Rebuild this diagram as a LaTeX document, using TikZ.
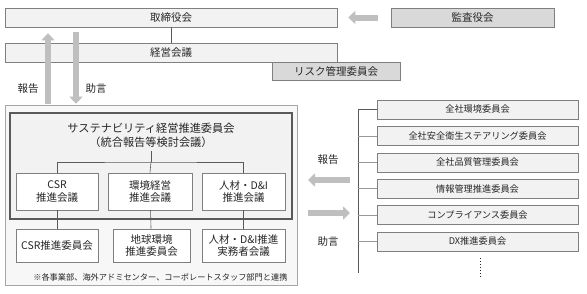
\documentclass[tikz,border=0pt]{standalone}
\usepackage{fontspec}
\setmainfont{Noto Sans CJK JP}
\usetikzlibrary{positioning,arrows.meta,calc}
\definecolor{boxfill}{HTML}{F2F2F2}
\definecolor{boxline}{HTML}{7F7F7F}
\definecolor{darkfill}{HTML}{D9D9D9}
\definecolor{arrowc}{HTML}{BFBFBF}
\definecolor{linec}{HTML}{595959}
\definecolor{textc}{HTML}{262626}
\tikzset{
  box/.style={draw=boxline, fill=boxfill, inner sep=0pt, align=center, text=textc,
              font=\fontsize{10.5}{12.5}\selectfont, line width=0.6pt},
  dbox/.style={box, fill=darkfill},
  rbox/.style={box, minimum width=201pt, minimum height=19pt, font=\fontsize{9.2}{11}\selectfont},
  wbox/.style={box, fill=white},
  fat/.style={-{Triangle[length=7pt, width=13pt]}, line width=6pt, draw=arrowc},
  link/.style={draw=linec, line width=0.6pt},
  lbl/.style={font=\fontsize{10.5}{12}\selectfont, text=textc},
}

\begin{document}
\begin{tikzpicture}[x=1pt, y=-1pt]
  \useasboundingbox (0,0) rectangle (587,293);

  % top: board, audit, management
  \node[box, minimum width=332pt, minimum height=19pt] (board) at (171,17.5) {取締役会};
  \node[dbox, minimum width=163pt, minimum height=19pt] (audit) at (472.5,17.5) {監査役会};
  \node[box, minimum width=332pt, minimum height=19pt] (mgmt) at (171,52.5) {経営会議};
  \node[dbox, minimum width=128pt, minimum height=18pt] (risk) at (336,71) {リスク管理委員会};
  \draw[link] (board) -- (mgmt);
  \draw[fat] ([xshift=-13pt]audit.west) -- ([xshift=11pt]board.east);

  % sustainability committee
  \node[box, draw=black!35, fill=black!3, minimum width=292pt, minimum height=180pt] (outer) at (151,195) {};
  \node[box, draw=linec, line width=1.2pt, minimum width=282pt, minimum height=106pt] (inner) at (151,166) {};
  \node[lbl, align=center, font=\fontsize{11.2}{14}\selectfont] (sus) at (151,135)
      {サステナビリティ経営推進委員会\\（統合報告等検討会議）};

  \node[wbox, minimum width=82pt, minimum height=37pt] (csrc) at (57,191.5) {CSR\\推進会議};
  \node[wbox, minimum width=84pt, minimum height=37pt] (envc) at (150,191.5) {環境経営\\推進会議};
  \node[wbox, minimum width=83pt, minimum height=37pt] (hrc) at (243.5,191.5) {人材・D\&I\\推進会議};

  \node[wbox, minimum width=82pt, minimum height=33pt] (csrcom) at (57,245.5) {CSR推進委員会};
  \node[wbox, minimum width=77pt, minimum height=33pt] (envcom) at (151.5,245.5) {地球環境\\推進委員会};
  \node[wbox, minimum width=83pt, minimum height=33pt] (hrcom) at (243.5,245.5) {人材・D\&I推進\\実務者会議};

  \coordinate (fork) at (151,162);
  \draw[link] (sus) -- (fork);
  \draw[link] (csrc.north) |- (fork) -| (hrc.north);
  \draw[link] (fork) -- (envc.north);
  \draw[link] (csrc) -- (csrcom);
  \draw[link] (envc) -- (envcom);
  \draw[link] (hrc) -- (hrcom);

  \node[lbl, anchor=east, font=\fontsize{8.2}{10}\selectfont] (note) at (291,277)
      {※各事業部、海外アドミセンター、コーポレートスタッフ部門と連携};

  % report / advice to management
  \coordinate (rep) at (48,0);
  \coordinate (adv) at (76,0);
  \draw[fat, shorten <=1pt, shorten >=6pt] (rep |- outer.north) -- (rep |- board.south);
  \draw[fat, shorten <=5pt, shorten >=1pt] (adv |- board.south) -- (adv |- outer.north);
  \node[lbl] (replbl) at (28,89) {報告};
  \node[lbl] (advlbl) at (96,89) {助言};

  % company-wide committees
  \foreach \i/\t in {1/全社環境委員会, 2/全社安全衛生ステアリング委員会, 3/全社品質管理委員会,
                     4/情報管理推進委員会, 5/コンプライアンス委員会, 6/DX推進委員会}
    \node[rbox] (rc\i) at (477.5,{109.5+26.4*(\i-1)}) {\t};

  \coordinate (bus) at (358,273);
  \draw[link] (rc1.west) -| (bus);
  \foreach \i in {2,...,6}
    \draw[link, draw=black!40] (rc\i.west) -- (rc\i.west -| bus);
  \coordinate (dots) at (480,258);
  \draw[dotted, line width=1pt, draw=textc] (dots) -- ++(0,20);

  \coordinate (rrs) at (350,180);
  \coordinate (rre) at (308,180);
  \coordinate (ras) at (308,213);
  \coordinate (rae) at (350,213);
  \draw[fat] (rrs) -- (rre);
  \draw[fat] (ras) -- (rae);
  \node[lbl] (rreplbl) at (328,160) {報告};
  \node[lbl] (radvlbl) at (328,242) {助言};
\end{tikzpicture}
\end{document}
